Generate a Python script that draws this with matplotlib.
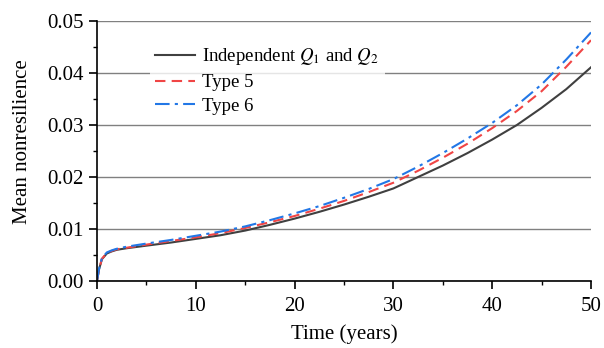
import matplotlib
matplotlib.use('Agg')
import matplotlib.pyplot as plt
from matplotlib.ticker import MultipleLocator

plt.rcParams['font.family'] = ['Liberation Serif', 'DejaVu Serif']
plt.rcParams['mathtext.fontset'] = 'stix'

# time axis (years) and mean nonresilience for each dependence model
t = [0, 0.2, 0.5, 1, 1.5, 2, 3, 5, 7.5, 10, 12.5, 15, 17.5, 20, 22.5, 25,
     27.5, 30, 32.5, 35, 37.5, 40, 42.5, 45, 47.5, 50]
independent = [0, 0.0022, 0.0042, 0.0053, 0.0057, 0.0060, 0.0063, 0.0068,
               0.0074, 0.0081, 0.0088, 0.0097, 0.0108, 0.0120, 0.0133, 0.0147,
               0.0162, 0.0178, 0.0200, 0.0222, 0.0246, 0.0272, 0.0300, 0.0333,
               0.0369, 0.0411]
type5 = [0, 0.0022, 0.0043, 0.0054, 0.0058, 0.0061, 0.0064, 0.0070, 0.0077,
         0.0084, 0.0092, 0.0102, 0.0113, 0.0125, 0.0139, 0.0154, 0.0171,
         0.0189, 0.0212, 0.0237, 0.0264, 0.0294, 0.0327, 0.0365, 0.0412,
         0.0463]
type6 = [0, 0.0023, 0.0044, 0.0055, 0.0059, 0.0062, 0.0066, 0.0072, 0.0079,
         0.0087, 0.0095, 0.0105, 0.0117, 0.0130, 0.0144, 0.0160, 0.0177,
         0.0196, 0.0220, 0.0246, 0.0274, 0.0304, 0.0338, 0.0378, 0.0426,
         0.0478]

fig = plt.figure(figsize=(6.04, 3.48), dpi=100)
ax = fig.add_axes([0.1606, 0.1925, 0.8179, 0.7472])

ax.plot(t, independent, color='#404040', lw=1.5, ls='-',
        label='Independent $Q_1$ and $Q_2$')
ax.plot(t, type5, color='#f04545', lw=1.5, ls=(0, (5, 3)), label='Type 5')
ax.plot(t, type6, color='#2277e6', lw=1.5, ls=(0, (7, 2.5, 1.5, 2.5)),
        label='Type 6')

ax.set_xlim(0, 50)
ax.set_ylim(0, 0.05)
ax.xaxis.set_major_locator(MultipleLocator(10))
ax.xaxis.set_minor_locator(MultipleLocator(5))
ax.yaxis.set_major_locator(MultipleLocator(0.01))
ax.yaxis.set_minor_locator(MultipleLocator(0.005))
ax.yaxis.set_major_formatter(lambda v, p: f'{v:.2f}')

ax.grid(axis='y', which='major', color='#808080', lw=1.0)
ax.set_axisbelow(True)
for side in ('top', 'right'):
    ax.spines[side].set_visible(False)
for side in ('left', 'bottom'):
    ax.spines[side].set_linewidth(1.2)

ax.tick_params(which='major', direction='out', length=5.5, width=1.2,
               labelsize=15, colors='black', pad=4)
ax.tick_params(axis='x', which='major', pad=6)
ax.tick_params(which='minor', direction='out', length=3, width=1.0)

ax.set_xlabel('Time (years)', fontsize=15, labelpad=6)
ax.set_ylabel('Mean nonresilience', fontsize=15)
ax.yaxis.set_label_coords(-0.131, 0.535)

leg = ax.legend(loc='upper left', bbox_to_anchor=(0.088, 0.96), frameon=True,
                fontsize=13.5, handlelength=2.1, handletextpad=0.4,
                labelspacing=0.35, borderpad=0.3, fancybox=False)
leg.get_frame().set_facecolor('white')
leg.get_frame().set_edgecolor('none')

fig.savefig('out.png', dpi=100)
